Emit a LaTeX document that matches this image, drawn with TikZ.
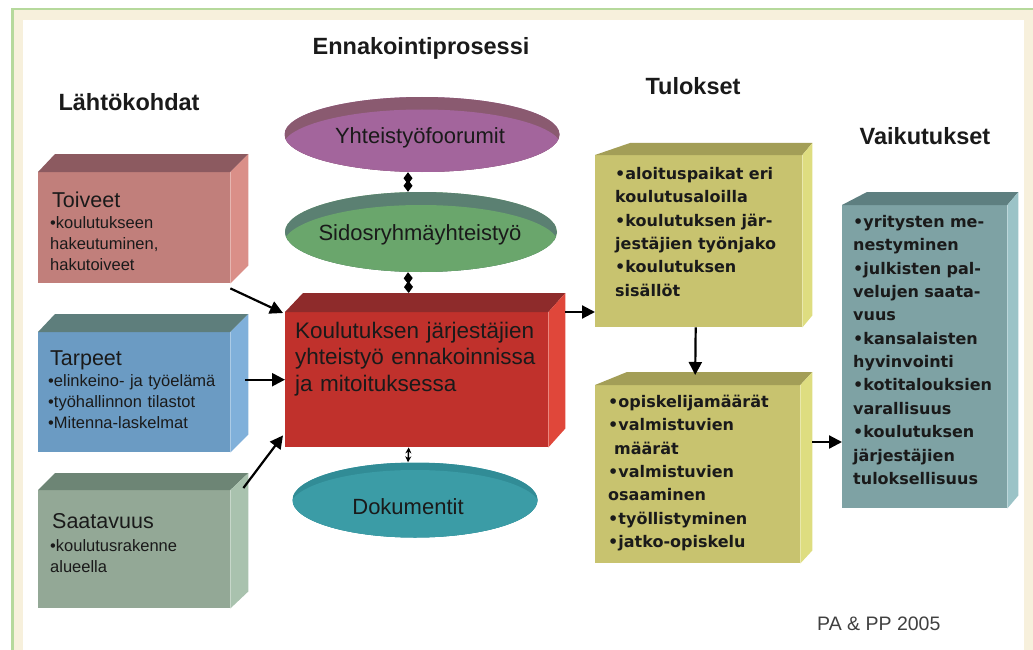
\documentclass[tikz,border=0pt]{standalone}
\usepackage{fontspec}
\setmainfont{Liberation Sans}
\newfontfamily\dvfont{DejaVu Sans}
\usetikzlibrary{shapes.geometric,arrows.meta,calc}

\definecolor{frgreen}{HTML}{B6D99C}
\definecolor{frbeige}{HTML}{F7F0DC}
\definecolor{toiF}{HTML}{C17F7B}
\definecolor{toiT}{HTML}{8C5A60}
\definecolor{toiS}{HTML}{DA8F88}
\definecolor{tarF}{HTML}{6B9BC3}
\definecolor{tarT}{HTML}{5E7E7C}
\definecolor{tarS}{HTML}{80B0DA}
\definecolor{saaF}{HTML}{93A896}
\definecolor{saaT}{HTML}{6D8575}
\definecolor{saaS}{HTML}{A9C2AE}
\definecolor{redF}{HTML}{C0312C}
\definecolor{redT}{HTML}{8E2B2B}
\definecolor{redS}{HTML}{E0473A}
\definecolor{yelF}{HTML}{C8C36F}
\definecolor{yelT}{HTML}{A39E57}
\definecolor{yelS}{HTML}{DEDD80}
\definecolor{vaiF}{HTML}{7EA2A4}
\definecolor{vaiT}{HTML}{5E7F80}
\definecolor{vaiS}{HTML}{9BC3C7}
\definecolor{purM}{HTML}{A3659C}
\definecolor{purT}{HTML}{8A5A70}
\definecolor{grnM}{HTML}{6AA66C}
\definecolor{grnT}{HTML}{5B8072}
\definecolor{tealM}{HTML}{3B9CA6}
\definecolor{tealT}{HTML}{318C96}
\definecolor{txt}{HTML}{1A1A1A}
\definecolor{credit}{HTML}{404040}

% faces of a cuboid: #1 node, #2 left dx, #3 right dx, #4 dy, #5 top colour, #6 side colour
\newcommand\cubefaces[6]{%
  \fill[#5] (#1.north west) -- ++(#2,-#4) -- ([shift={(#3,-#4)}]#1.north east) -- (#1.north east) -- cycle;
  \fill[#6] (#1.north east) -- ++(#3,-#4) -- ([shift={(#3,-#4)}]#1.south east) -- (#1.south east) -- cycle;}

\tikzset{
  front/.style={inner sep=0pt, anchor=north west, draw=none},
  heading/.style={font=\fontsize{23.5}{28}\selectfont\bfseries, text=txt, anchor=base, inner sep=0pt},
  boxhead/.style={font=\fontsize{21.5}{26}\selectfont, text=txt, anchor=base west, inner sep=0pt},
  boxbul/.style={font=\fontsize{16.5}{21}\selectfont, text=txt, anchor=base west, inner sep=0pt, text width=200pt, align=left},
  redtext/.style={font=\fontsize{22.5}{26.5}\selectfont, text=txt, anchor=base west, inner sep=0pt, text width=260pt, align=left},
  restext/.style={font=\dvfont\bfseries\fontsize{16}{23.35}\selectfont, text=txt, anchor=base west, inner sep=0pt, text width=200pt, align=left},
  elltext/.style={font=\fontsize{22}{26}\selectfont, text=txt, inner sep=0pt},
  blob/.style={ellipse, draw=none, inner sep=0pt},
  arr/.style={line width=2.2pt, -{Triangle[length=13pt,width=13pt]}},
  dia/.style={line width=2.2pt, {Diamond[length=12pt,width=9pt]}-{Diamond[length=12pt,width=9pt]}},
  dbl/.style={line width=1.5pt, {Stealth[length=6pt,width=6pt]}-{Stealth[length=6pt,width=6pt]}}
}

\begin{document}
\begin{tikzpicture}[x=1pt,y=-1pt]
\useasboundingbox (0,0) rectangle (1033,650);
% frame
\fill[white] (0,0) rectangle (1033,650);
\fill[frbeige] (13,10) rectangle (1033,650);
\fill[white] (23,20) rectangle (1024,650);
\fill[frgreen] (11,8) rectangle (1033,10.5);
\fill[frgreen] (11,8) rectangle (13.5,650);

% headings
\node[heading] (title) at (421,55) {Ennakointiprosessi};
\node[heading] (lahto) at (129,111) {Lähtökohdat};
\node[heading] (tulos) at (693,95) {Tulokset};
\node[heading] (vaikH) at (925,145) {Vaikutukset};

% left boxes
\node[front, fill=toiF, minimum width=192pt, minimum height=111pt] (toiveet) at (38,172) {};
\cubefaces{toiveet}{17}{18}{18}{toiT}{toiS}
\node[boxhead] (toiveetH) at (52,207) {Toiveet};
\node[boxbul] (toiveetB) at (50,228) {•koulutukseen\\hakeutuminen,\\hakutoiveet};

\node[front, fill=tarF, minimum width=192pt, minimum height=120pt] (tarpeet) at (38,332) {};
\cubefaces{tarpeet}{17}{18}{18}{tarT}{tarS}
\node[boxhead] (tarpeetH) at (50,365) {Tarpeet};
\node[boxbul] (tarpeetB) at (48,386) {•elinkeino- ja työelämä\\•työhallinnon tilastot\\•Mitenna-laskelmat};

\node[front, fill=saaF, minimum width=192pt, minimum height=118pt] (saat) at (38,490) {};
\cubefaces{saat}{17}{18}{17}{saaT}{saaS}
\node[boxhead] (saatH) at (52,528) {Saatavuus};
\node[boxbul] (saatB) at (50,551) {•koulutusrakenne\\alueella};

% ellipses
\node[blob, fill=purM, minimum width=275pt, minimum height=75pt,
  path picture={\fill[purT] (path picture bounding box.south west) rectangle (path picture bounding box.north east);
    \fill[purM] ([yshift=-13pt]path picture bounding box.center) ellipse [x radius=140pt, y radius=38pt];}] (forum) at (422,134.5) {};
\node[elltext] (forumT) at (420,138) {Yhteistyöfoorumit};

\node[blob, fill=grnM, minimum width=272pt, minimum height=80pt,
  path picture={\fill[grnT] (path picture bounding box.south west) rectangle (path picture bounding box.north east);
    \fill[grnM] ([yshift=-13pt]path picture bounding box.center) ellipse [x radius=138pt, y radius=40pt];}] (sido) at (421,232) {};
\node[elltext] (sidoT) at (420,235) {Sidosryhmäyhteistyö};

% central red box
\node[front, fill=redF, minimum width=263pt, minimum height=135pt] (red) at (285,312) {};
\cubefaces{red}{18}{17}{19}{redT}{redS}
\node[redtext] (redTx) at (295,338) {Koulutuksen järjestäjien\\yhteistyö ennakoinnissa\\ja mitoituksessa};

\node[blob, fill=tealM, minimum width=245pt, minimum height=75pt,
  path picture={\fill[tealT] (path picture bounding box.south west) rectangle (path picture bounding box.north east);
    \fill[tealM] ([yshift=-7pt]path picture bounding box.center) ellipse [x radius=125pt, y radius=37pt];}] (doc) at (415,500) {};
\node[elltext] (docT) at (408,507) {Dokumentit};

% result boxes
\node[front, fill=yelF, minimum width=207pt, minimum height=172pt] (res1) at (595,155) {};
\cubefaces{res1}{35}{10}{12}{yelT}{yelS}
\node[restext] (res1T) at (615,179.5) {•aloituspaikat eri\\koulutusaloilla\\•koulutuksen jär-\\jestäjien työnjako\\•koulutuksen\\sisällöt};

\node[front, fill=yelF, minimum width=205pt, minimum height=178pt] (res2) at (595,385) {};
\cubefaces{res2}{32}{12}{13}{yelT}{yelS}
\node[restext] (res2T) at (608,407.5) {•opiskelijamäärät\\•valmistuvien\\\hspace*{6pt}määrät\\•valmistuvien\\osaaminen\\•työllistyminen\\•jatko-opiskelu};

% effects box
\node[front, fill=vaiF, minimum width=165pt, minimum height=303pt] (vaik) at (842,205) {};
\cubefaces{vaik}{25}{11}{13}{vaiT}{vaiS}
\node[restext] (vaikT) at (853,227.5) {•yritysten me-\\nestyminen\\•julkisten pal-\\velujen saata-\\vuus\\•kansalaisten\\hyvinvointi\\•kotitalouksien\\varallisuus\\•koulutuksen\\järjestäjien\\tuloksellisuus};

\node[font=\fontsize{19.5}{24}\selectfont, text=credit, anchor=base west, inner sep=0pt] (credit) at (817,630) {PA \& PP 2005};

% connectors
\coordinate (toiOut) at ([yshift=-5pt]toiveet.south east);
\draw[arr] (toiOut) -- ([shift={(-2,1)}]red.north west);
\draw[arr] ([xshift=15pt]tarpeet.east |- red.west) -- (red.west);
\coordinate (saaOut) at ([shift={(13,-2)}]saat.north east);
\draw[arr] (saaOut) -- ([shift={(-2,-12)}]red.south west);

\draw[dia] ([xshift=-14pt]forum.south) -- ([xshift=-13pt]sido.north);
\draw[dia] ([xshift=-13pt]sido.south) -- ([shift={(-8,-19)}]red.north);
\draw[dbl] ([xshift=-8pt]red.south) -- ([xshift=-7pt]doc.north);

\draw[arr] ([xshift=17pt]red.north east) -- (res1.west |- red.north east);
\draw[arr] ([xshift=-3pt]res1.south) -- ([shift={(-2.5,-10)}]res2.north);
\coordinate (res2Out) at ([shift={(12,57)}]res2.north east);
\draw[arr] (res2Out) -- (vaik.west |- res2Out);
\end{tikzpicture}
\end{document}
